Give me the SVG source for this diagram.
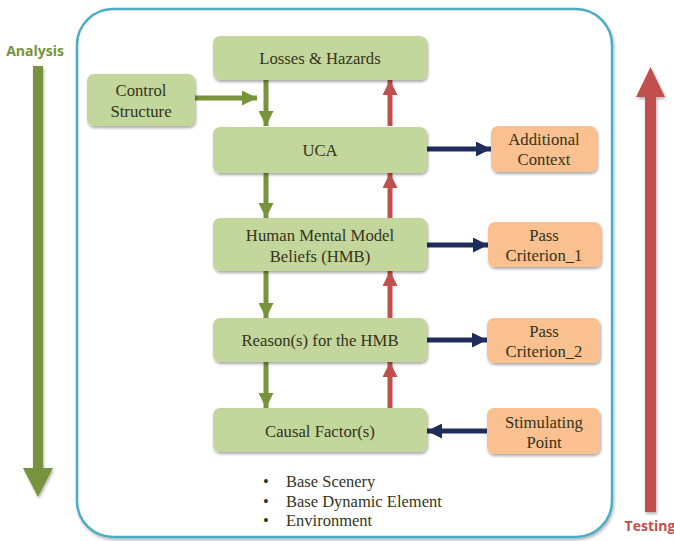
<svg xmlns="http://www.w3.org/2000/svg" width="674" height="541" viewBox="0 0 674 541">
  <style>
    .g { fill: #C3D69B; filter: url(#sh); }
    .o { fill: #FAC090; filter: url(#sh); }
    .t { font-family: "Liberation Serif", "Times New Roman", serif; font-size: 16.7px; fill: #34341A; text-anchor: middle; }
    .b { font-family: "Liberation Serif", "Times New Roman", serif; font-size: 16.5px; fill: #34341A; }
    .lbl { font-family: "Open Sans", "Liberation Sans", sans-serif; font-size: 14px; font-weight: bold; text-anchor: middle; }
    .down { stroke: #77933C; stroke-width: 5; fill: none; marker-end: url(#mg); }
    .up { stroke: #C0504D; stroke-width: 5; fill: none; marker-end: url(#mr); }
    .nv { stroke: #1F2C5C; stroke-width: 5; fill: none; marker-end: url(#mn); }
  </style>
  <defs>
    <filter id="sh" x="-10%" y="-20%" width="130%" height="150%">
      <feGaussianBlur in="SourceAlpha" stdDeviation="1.5"/>
      <feOffset dx="1" dy="2" result="b"/>
      <feComponentTransfer><feFuncA type="linear" slope="0.35"/></feComponentTransfer>
      <feMerge><feMergeNode/><feMergeNode in="SourceGraphic"/></feMerge>
    </filter>
    <filter id="fsh" x="-5%" y="-5%" width="110%" height="110%">
      <feGaussianBlur in="SourceAlpha" stdDeviation="1.5"/>
      <feOffset dx="1" dy="2"/>
      <feComponentTransfer><feFuncA type="linear" slope="0.3"/></feComponentTransfer>
      <feMerge><feMergeNode/><feMergeNode in="SourceGraphic"/></feMerge>
    </filter>
    <marker id="mg" viewBox="0 0 10 10" refX="10" refY="5" markerWidth="3" markerHeight="3" orient="auto" markerUnits="strokeWidth">
      <path d="M0,0 L10,5 L0,10 Z" fill="#77933C"/>
    </marker>
    <marker id="mr" viewBox="0 0 10 10" refX="10" refY="5" markerWidth="3" markerHeight="3" orient="auto" markerUnits="strokeWidth">
      <path d="M0,0 L10,5 L0,10 Z" fill="#C0504D"/>
    </marker>
    <marker id="mn" viewBox="0 0 10 10" refX="10" refY="5" markerWidth="3" markerHeight="3" orient="auto" markerUnits="strokeWidth">
      <path d="M0,0 L10,5 L0,10 Z" fill="#1F2C5C"/>
    </marker>
  </defs>

  <rect width="674" height="541" fill="#FFFFFF"/>

  <!-- outer frame -->
  <rect x="77" y="9" width="535" height="528" rx="36" ry="36" fill="#FFFFFF" stroke="#4BACC6" stroke-width="2.5" filter="url(#fsh)"/>

  <!-- analysis direction -->
  <g id="analysis">
    <text class="lbl" x="35" y="56" fill="#77933C">Analysis</text>
    <path d="M33,66 H43 V468 H53 L38,497 L23,468 H33 Z" fill="#77933C" filter="url(#fsh)"/>
  </g>

  <!-- testing direction -->
  <g id="testing">
    <path d="M645,512 V97 H636 L650.5,67 L665,97 H656 V512 Z" fill="#C0504D" filter="url(#fsh)"/>
    <text class="lbl" x="650" y="531" fill="#C0504D">Testing</text>
  </g>

  <!-- connectors -->
  <g id="connectors">
    <line class="down" x1="266" y1="80" x2="266" y2="126"/>
    <line class="down" x1="195" y1="98" x2="257" y2="98"/>
    <line class="up" x1="390" y1="126" x2="390" y2="80"/>
    <line class="down" x1="266" y1="173" x2="266" y2="218"/>
    <line class="up" x1="390" y1="218" x2="390" y2="173"/>
    <line class="down" x1="266" y1="271" x2="266" y2="318"/>
    <line class="up" x1="390" y1="318" x2="390" y2="271"/>
    <line class="down" x1="266" y1="362" x2="266" y2="408"/>
    <line class="up" x1="390" y1="408" x2="390" y2="362"/>
    <line class="nv" x1="427" y1="149" x2="491" y2="149"/>
    <line class="nv" x1="427" y1="245" x2="488" y2="245"/>
    <line class="nv" x1="427" y1="340" x2="487" y2="340"/>
    <line class="nv" x1="487" y1="431" x2="427" y2="431"/>
  </g>

  <!-- main chain -->
  <g id="losses">
    <rect class="g" x="213" y="36" width="214" height="44" rx="7"/>
    <text class="t" x="320" y="64">Losses &amp; Hazards</text>
  </g>
  <g id="control">
    <rect class="g" x="87" y="74" width="108" height="52" rx="7"/>
    <text class="t" x="141" y="96">Control</text>
    <text class="t" x="141" y="117">Structure</text>
  </g>
  <g id="uca">
    <rect class="g" x="213" y="127" width="214" height="46" rx="7"/>
    <text class="t" x="320" y="156">UCA</text>
  </g>
  <g id="hmb">
    <rect class="g" x="213" y="218" width="214" height="53" rx="7"/>
    <text class="t" x="320" y="241">Human Mental Model</text>
    <text class="t" x="320" y="262">Beliefs (HMB)</text>
  </g>
  <g id="reason">
    <rect class="g" x="213" y="318" width="214" height="44" rx="7"/>
    <text class="t" x="320" y="346">Reason(s) for the HMB</text>
  </g>
  <g id="causal">
    <rect class="g" x="213" y="408" width="214" height="44" rx="7"/>
    <text class="t" x="320" y="437">Causal Factor(s)</text>
  </g>

  <!-- side boxes -->
  <g id="context">
    <rect class="o" x="491" y="126" width="106" height="46" rx="7"/>
    <text class="t" x="544" y="145">Additional</text>
    <text class="t" x="544" y="165">Context</text>
  </g>
  <g id="pass1">
    <rect class="o" x="488" y="222" width="113" height="45" rx="7"/>
    <text class="t" x="544" y="241">Pass</text>
    <text class="t" x="544" y="261">Criterion_1</text>
  </g>
  <g id="pass2">
    <rect class="o" x="487" y="318" width="113" height="45" rx="7"/>
    <text class="t" x="544" y="337">Pass</text>
    <text class="t" x="544" y="357">Criterion_2</text>
  </g>
  <g id="stimulating">
    <rect class="o" x="487" y="408" width="113" height="46" rx="7"/>
    <text class="t" x="544" y="428">Stimulating</text>
    <text class="t" x="544" y="448">Point</text>
  </g>

  <!-- causal factor categories -->
  <g id="factors">
    <text class="b" x="263" y="487">•</text>
    <text class="b" x="286" y="487">Base Scenery</text>
    <text class="b" x="263" y="507">•</text>
    <text class="b" x="286" y="507">Base Dynamic Element</text>
    <text class="b" x="263" y="526">•</text>
    <text class="b" x="286" y="526">Environment</text>
  </g>
</svg>
